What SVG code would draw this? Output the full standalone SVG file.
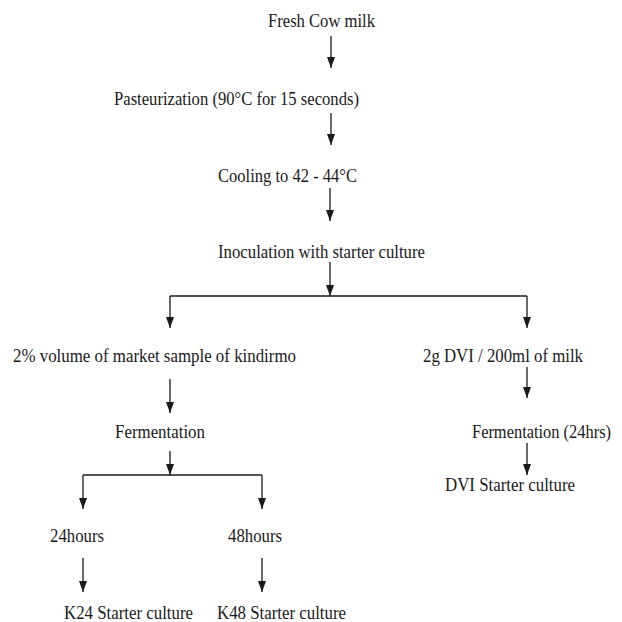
<svg xmlns="http://www.w3.org/2000/svg" width="622" height="622" viewBox="0 0 622 622">
<style>
text{font-family:"Liberation Serif","Times New Roman","DejaVu Serif",serif;font-size:19px;fill:#1a1a1a}
.c{stroke:#1a1a1a;stroke-width:1.3;fill:none}
.a{marker-end:url(#ah)}
</style>
<defs>
<marker id="ah" viewBox="0 0 11 8" refX="11" refY="4" markerWidth="11" markerHeight="8" markerUnits="userSpaceOnUse" orient="auto">
<path d="M0,0 L11,4 L0,8 Z" fill="#1a1a1a"/>
</marker>
</defs>
<rect width="622" height="622" fill="#ffffff"/>
<g>
<g id="n1"><text x="268" y="27" textLength="107" lengthAdjust="spacingAndGlyphs">Fresh Cow milk</text></g>
<g id="n2"><text x="114" y="105" textLength="245" lengthAdjust="spacingAndGlyphs">Pasteurization (90°C for 15 seconds)</text></g>
<g id="n3"><text x="218" y="182" textLength="139" lengthAdjust="spacingAndGlyphs">Cooling to 42 - 44°C</text></g>
<g id="n4"><text x="218" y="258" textLength="207" lengthAdjust="spacingAndGlyphs">Inoculation with starter culture</text></g>
<g id="n5"><text x="13" y="362" textLength="283" lengthAdjust="spacingAndGlyphs">2% volume of market sample of kindirmo</text></g>
<g id="n6"><text x="423" y="362" textLength="160" lengthAdjust="spacingAndGlyphs">2g DVI / 200ml of milk</text></g>
<g id="n7"><text x="115" y="438" textLength="90" lengthAdjust="spacingAndGlyphs">Fermentation</text></g>
<g id="n8"><text x="472" y="438" textLength="139" lengthAdjust="spacingAndGlyphs">Fermentation (24hrs)</text></g>
<g id="n9"><text x="445" y="491" textLength="130" lengthAdjust="spacingAndGlyphs">DVI Starter culture</text></g>
<g id="n10"><text x="50" y="542" textLength="54" lengthAdjust="spacingAndGlyphs">24hours</text></g>
<g id="n11"><text x="228" y="542" textLength="54" lengthAdjust="spacingAndGlyphs">48hours</text></g>
<g id="n12"><text x="64" y="619" textLength="129" lengthAdjust="spacingAndGlyphs">K24 Starter culture</text></g>
<g id="n13"><text x="217" y="619" textLength="129" lengthAdjust="spacingAndGlyphs">K48 Starter culture</text></g>
</g>
<g id="connectors">
<line class="c a" x1="331" y1="36" x2="331" y2="68"/>
<line class="c a" x1="331" y1="113" x2="331" y2="145"/>
<line class="c a" x1="330" y1="188" x2="330" y2="221"/>
<line class="c a" x1="330" y1="262" x2="330" y2="296"/>
<polyline class="c" points="170,296 527,296"/>
<line class="c a" x1="170" y1="296" x2="170" y2="328"/>
<line class="c a" x1="527" y1="296" x2="527" y2="328"/>
<line class="c a" x1="170" y1="379" x2="170" y2="413"/>
<line class="c a" x1="170" y1="451" x2="170" y2="475"/>
<polyline class="c" points="83,475 262,475"/>
<line class="c a" x1="83" y1="475" x2="83" y2="509"/>
<line class="c a" x1="262" y1="475" x2="262" y2="509"/>
<line class="c a" x1="83" y1="558" x2="83" y2="592"/>
<line class="c a" x1="262" y1="558" x2="262" y2="592"/>
<line class="c a" x1="527" y1="367" x2="527" y2="398"/>
<line class="c a" x1="527" y1="443" x2="527" y2="475"/>
</g>
</svg>
